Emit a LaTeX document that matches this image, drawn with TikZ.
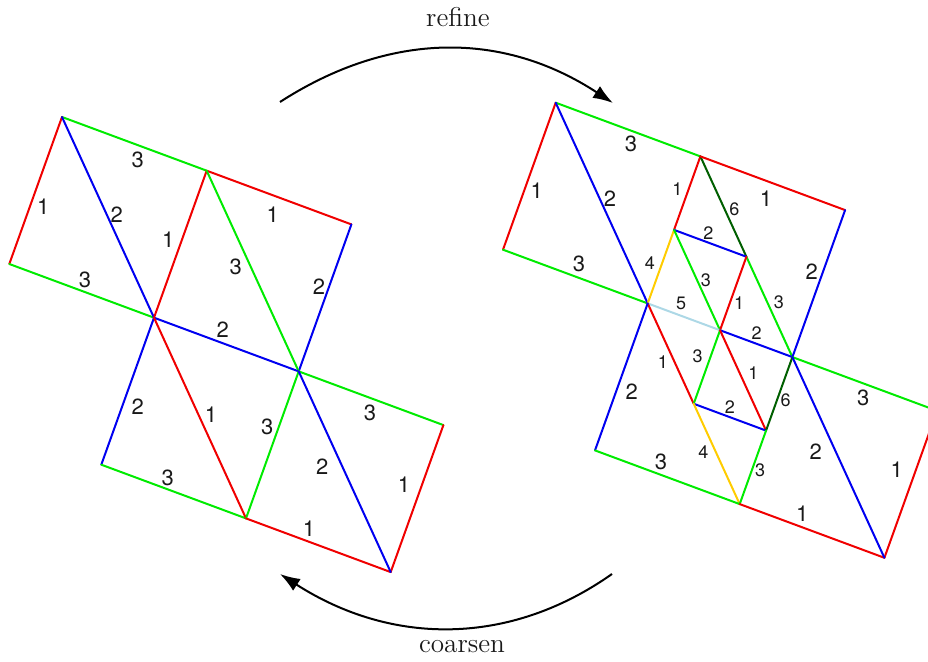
\documentclass[tikz,border=0pt]{standalone}
\usepackage{fontspec}
\newfontfamily\lblfont{TeX Gyre Heros}
\usetikzlibrary{calc,arrows.meta}
\definecolor{mgreen}{RGB}{0,235,0}
\definecolor{mred}{RGB}{240,0,0}
\definecolor{mblue}{RGB}{0,0,240}
\definecolor{dgreen}{RGB}{0,95,0}
\definecolor{myellow}{RGB}{255,204,0}
\definecolor{lblue}{RGB}{173,216,230}
\begin{document}
\begin{tikzpicture}[x=0.5pt,y=-0.5pt,
  edge/.style={line width=1pt,line cap=round},
  g/.style={edge,draw=mgreen},
  r/.style={edge,draw=mred},
  b/.style={edge,draw=mblue},
  dg/.style={edge,draw=dgreen},
  yl/.style={edge,draw=myellow},
  lb/.style={edge,draw=lblue},
  big/.style={inner sep=0pt,font=\lblfont\fontsize{11}{12}\selectfont,text=black!90},
  sml/.style={inner sep=0pt,font=\lblfont\fontsize{9}{10}\selectfont,text=black!90},
  arr/.style={line width=1pt,-{Latex[length=10pt,width=7pt]}},
  captext/.style={font=\fontsize{13.6}{16}\selectfont,text=black!90}]
\useasboundingbox (0,0) rectangle (928,662);
\clip (0,0) rectangle (928,662);
% left mesh
\coordinate (A) at (62,117);
\coordinate (D) at (206.7,170.7);
\coordinate (E) at (351.4,224.4);
\coordinate (B) at (9.3,264);
\coordinate (C) at (154,317.7);
\coordinate (F) at (298.7,371.4);
\coordinate (G) at (443.4,425.1);
\coordinate (J) at (101.3,464.7);
\coordinate (I) at (246,518.4);
\coordinate (H) at (390.7,572.1);
\draw[g] (A) -- (D);
\draw[r] (A) -- (B);
\draw[g] (B) -- (C);
\draw[b] (A) -- (C);
\draw[r] (D) -- (C);
\draw[r] (D) -- (E);
\draw[b] (E) -- (F);
\draw[g] (D) -- (F);
\draw[b] (C) -- (F);
\draw[b] (C) -- (J);
\draw[g] (J) -- (I);
\draw[r] (C) -- (I);
\draw[g] (F) -- (I);
\draw[g] (F) -- (G);
\draw[r] (G) -- (H);
\draw[r] (H) -- (I);
\draw[b] (F) -- (H);
\node[big] (l1) at (137.7,160) {3};
\node[big] (l2) at (43.3,206.7) {1};
\node[big] (l3) at (116.7,214.3) {2};
\node[big] (l4) at (168.3,240) {1};
\node[big] (l5) at (85,280) {3};
\node[big] (l6) at (272.7,214.3) {1};
\node[big] (l7) at (235.7,267.3) {3};
\node[big] (l8) at (319,286.7) {2};
\node[big] (l9) at (222.7,330) {2};
\node[big] (l10) at (137.7,406.7) {2};
\node[big] (l11) at (211,414.3) {1};
\node[big] (l12) at (267.3,426.7) {3};
\node[big] (l13) at (370,413.3) {3};
\node[big] (l14) at (322.3,466.7) {2};
\node[big] (l15) at (404,485) {1};
\node[big] (l16) at (167.7,477.7) {3};
\node[big] (l17) at (309,528.3) {1};
% right mesh
\coordinate (rA) at (555.7,102.7);
\coordinate (rD) at (700.4,156.4);
\coordinate (rE) at (845.1,210.1);
\coordinate (rB) at (503,249.7);
\coordinate (rC) at (647.7,303.4);
\coordinate (rF) at (792.4,357.1);
\coordinate (rG) at (937.1,410.8);
\coordinate (rJ) at (595,450.4);
\coordinate (rI) at (739.7,504.1);
\coordinate (rH) at (884.4,557.8);
\coordinate (p1) at ($(rD)!0.5!(rC)$);
\coordinate (p2) at ($(rD)!0.5!(rF)$);
\coordinate (p3) at ($(rC)!0.5!(rF)$);
\coordinate (p4) at ($(rC)!0.5!(rI)$);
\coordinate (p5) at ($(rF)!0.5!(rI)$);
\draw[g] (rA) -- (rD);
\draw[r] (rA) -- (rB);
\draw[g] (rB) -- (rC);
\draw[b] (rA) -- (rC);
\draw[r] (rD) -- (p1);
\draw[yl] (p1) -- (rC);
\draw[dg] (rD) -- (p2);
\draw[g] (p2) -- (rF);
\draw[r] (rD) -- (rE);
\draw[b] (rE) -- (rF);
\draw[b] (p1) -- (p2);
\draw[g] (p1) -- (p3);
\draw[r] (p2) -- (p3);
\draw[lb] (rC) -- (p3);
\draw[b] (p3) -- (rF);
\draw[r] (rC) -- (p4);
\draw[g] (p3) -- (p4);
\draw[r] (p3) -- (p5);
\draw[b] (p4) -- (p5);
\draw[dg] (p5) -- (rF);
\draw[yl] (p4) -- (rI);
\draw[g] (p5) -- (rI);
\draw[b] (rC) -- (rJ);
\draw[g] (rJ) -- (rI);
\draw[r] (rI) -- (rH);
\draw[r] (rH) -- (rG);
\draw[g] (rF) -- (rG);
\draw[b] (rF) -- (rH);
\node[big] (m1) at (631,144) {3};
\node[big] (m2) at (536.7,191) {1};
\node[big] (m3) at (610,198.3) {2};
\node[big] (m4) at (579,264.3) {3};
\node[sml] (m5) at (677.3,189.3) {1};
\node[sml] (m6) at (734.3,209) {6};
\node[big] (m7) at (766,198.3) {1};
\node[sml] (m8) at (708.3,232.7) {2};
\node[sml] (m9) at (650,262.7) {4};
\node[sml] (m10) at (706,280) {3};
\node[big] (m11) at (811.7,271.7) {2};
\node[sml] (m12) at (681,303.3) {5};
\node[sml] (m13) at (739,302.7) {1};
\node[sml] (m14) at (779,302.7) {3};
\node[sml] (m15) at (756.7,333.3) {2};
\node[sml] (m16) at (663,362.3) {1};
\node[sml] (m17) at (697.7,356.7) {3};
\node[big] (m18) at (631.7,391.7) {2};
\node[sml] (m19) at (753.3,373.3) {1};
\node[sml] (m20) at (785.7,400) {6};
\node[big] (m21) at (863.3,398.3) {3};
\node[sml] (m22) at (730,406.7) {2};
\node[sml] (m23) at (703.3,451.7) {4};
\node[sml] (m24) at (760,470.7) {3};
\node[big] (m25) at (815.7,451.7) {2};
\node[big] (m26) at (661,462.3) {3};
\node[big] (m27) at (802.3,513.3) {1};
\node[big] (m28) at (896.7,470) {1};
% arrows
\coordinate (ra) at (280,102);
\coordinate (rb) at (613,103);
\coordinate (ca) at (612,574);
\coordinate (cb) at (280,574);
\draw[arr] (ra) .. controls (390,31) and (503,31) .. (rb);
\draw[arr] (ca) .. controls (510,646) and (392,646) .. (cb);
\node[captext] (tr) at (458,17) {refine};
\node[captext] (tc) at (462,647) {coarsen};
\end{tikzpicture}
\end{document}
